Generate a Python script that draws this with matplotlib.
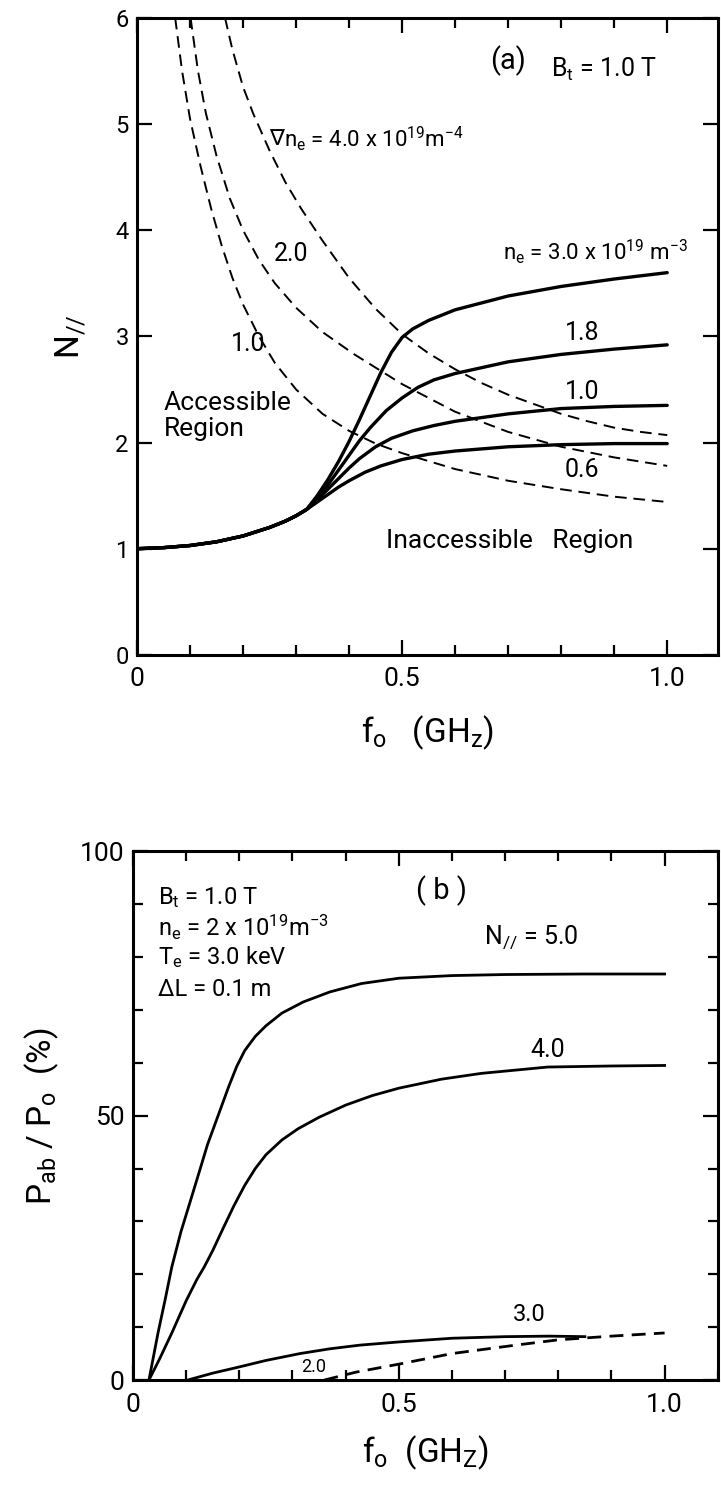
import matplotlib
matplotlib.use('Agg')
import matplotlib.pyplot as plt
from matplotlib.ticker import MultipleLocator

plt.rcParams['font.family'] = ['Roboto', 'DejaVu Sans']
plt.rcParams['mathtext.default'] = 'regular'

# ---- panel (a): accessibility, N_par vs f0 ----
fa_common = [0.0, 0.05, 0.1, 0.15, 0.2, 0.25, 0.28, 0.3, 0.32]
na_common = [1.0, 1.01, 1.03, 1.065, 1.12, 1.2, 1.26, 1.31, 1.37]

ne06_f = [0.34, 0.36, 0.38, 0.4, 0.43, 0.46, 0.5, 0.55, 0.6, 0.7, 0.8, 0.9, 1.0]
ne06_n = [1.44, 1.51, 1.58, 1.64, 1.72, 1.78, 1.84, 1.89, 1.92, 1.96, 1.98, 1.99, 1.99]
ne10_f = [0.34, 0.36, 0.38, 0.4, 0.42, 0.45, 0.48, 0.52, 0.56, 0.6, 0.7, 0.8, 0.9, 1.0]
ne10_n = [1.46, 1.56, 1.66, 1.76, 1.85, 1.96, 2.04, 2.11, 2.16, 2.2, 2.27, 2.32, 2.34, 2.35]
ne18_f = [0.34, 0.36, 0.38, 0.4, 0.42, 0.44, 0.47, 0.5, 0.53, 0.56, 0.6, 0.7, 0.8, 0.9, 1.0]
ne18_n = [1.48, 1.6, 1.74, 1.88, 2.02, 2.14, 2.3, 2.42, 2.52, 2.59, 2.65, 2.76, 2.83, 2.88, 2.92]
ne30_f = [0.34, 0.36, 0.38, 0.4, 0.42, 0.44, 0.46, 0.48, 0.5, 0.52, 0.55, 0.6, 0.7, 0.8, 0.9, 1.0]
ne30_n = [1.5, 1.65, 1.82, 2.01, 2.22, 2.44, 2.66, 2.85, 2.99, 3.07, 3.15, 3.25, 3.38, 3.47, 3.54, 3.6]

g1_f = [0.072, 0.085, 0.1, 0.12, 0.14, 0.16, 0.18, 0.2, 0.23, 0.26, 0.3, 0.35, 0.4, 0.45, 0.5,
        0.6, 0.7, 0.8, 0.9, 1.0]
g1_n = [6.0, 5.5, 5.05, 4.6, 4.2, 3.85, 3.55, 3.3, 3.0, 2.75, 2.5, 2.27, 2.11, 1.99, 1.9,
        1.75, 1.64, 1.56, 1.49, 1.44]
g2_f = [0.101, 0.115, 0.13, 0.15, 0.175, 0.2, 0.23, 0.26, 0.3, 0.35, 0.41, 0.5, 0.6, 0.7, 0.8,
        0.9, 1.0]
g2_n = [6.0, 5.5, 5.1, 4.7, 4.3, 4.0, 3.72, 3.5, 3.27, 3.04, 2.83, 2.55, 2.29, 2.1, 1.96,
        1.86, 1.78]
g4_f = [0.166, 0.18, 0.2, 0.219, 0.25, 0.28, 0.31, 0.35, 0.4, 0.45, 0.5, 0.55, 0.6, 0.65, 0.7,
        0.75, 0.8, 0.85, 0.9, 0.95, 1.0]
g4_n = [6.0, 5.7, 5.35, 5.1, 4.75, 4.45, 4.2, 3.9, 3.55, 3.26, 3.02, 2.84, 2.69, 2.56, 2.45,
        2.36, 2.27, 2.2, 2.14, 2.1, 2.07]

# ---- panel (b): absorbed power fraction vs f0 ----
p5_f = [0.03, 0.047, 0.06, 0.073, 0.09, 0.108, 0.125, 0.14, 0.16, 0.18, 0.195, 0.21, 0.23, 0.25,
        0.28, 0.32, 0.37, 0.43, 0.5, 0.6, 0.7, 0.85, 1.0]
p5_v = [0, 8.9, 15, 21.4, 28, 33.9, 39.5, 44.5, 50, 55.5, 59.3, 62.3, 65.0, 67.0,
        69.4, 71.5, 73.4, 75, 76, 76.5, 76.7, 76.8, 76.8]
p4_f = [0.03, 0.05, 0.073, 0.1, 0.12, 0.134, 0.15, 0.17, 0.19, 0.21, 0.23, 0.25, 0.28, 0.31,
        0.35, 0.4, 0.45, 0.5, 0.58, 0.655, 0.78, 0.9, 1.0]
p4_v = [0, 4, 8.9, 15, 19, 21.4, 24.5, 28.8, 33, 36.8, 40.0, 42.6, 45.4, 47.5,
        49.7, 52, 53.8, 55.2, 56.9, 58, 59.2, 59.4, 59.5]
p3_f = [0.103, 0.15, 0.201, 0.25, 0.314, 0.37, 0.427, 0.5, 0.6, 0.7, 0.784, 0.85]
p3_v = [0, 1.3, 2.5, 3.7, 5.0, 5.9, 6.6, 7.2, 7.9, 8.2, 8.3, 8.2]
p2_f = [0.36, 0.42, 0.5, 0.6, 0.72, 0.8, 0.9, 1.0]
p2_v = [0, 1.5, 3.0, 5.0, 6.6, 7.6, 8.3, 8.9]


def style_axes(ax, ymajor, yminor, ysize):
    ax.xaxis.set_major_locator(MultipleLocator(0.5))
    ax.xaxis.set_minor_locator(MultipleLocator(0.1))
    ax.yaxis.set_major_locator(MultipleLocator(ymajor))
    ax.yaxis.set_minor_locator(MultipleLocator(yminor))
    ax.tick_params(which='both', direction='in', top=True, right=True, width=1.6)
    ax.tick_params(which='major', length=11)
    ax.tick_params(which='minor', length=7)
    ax.tick_params(axis='x', labelsize=19, pad=9)
    ax.tick_params(axis='y', labelsize=ysize, pad=6)
    for s in ax.spines.values():
        s.set_linewidth(2.2)


fig = plt.figure(figsize=(7.21, 14.85), dpi=100)

# panel (a)
ax1 = fig.add_axes([0.190, 0.559, 0.806, 0.429])
solid = dict(color='black', lw=2.4, solid_capstyle='round', solid_joinstyle='round')
dash = dict(color='black', lw=1.4, linestyle=(0, (6, 3.5)))
for f, n in [(ne06_f, ne06_n), (ne10_f, ne10_n), (ne18_f, ne18_n), (ne30_f, ne30_n)]:
    ax1.plot(fa_common + f, na_common + n, **solid)
for f, n in [(g1_f, g1_n), (g2_f, g2_n), (g4_f, g4_n)]:
    ax1.plot(f, n, **dash)
ax1.set_xlim(0, 1.096)
ax1.set_ylim(0, 6)
ax1.set_xticks([0, 0.5, 1.0])
ax1.set_xticklabels(['0', '0.5', '1.0'])
style_axes(ax1, 1, 1, 17)
ax1.set_xlabel('f$_o$   (GH$_z$)', fontsize=24, labelpad=16)
ax1.set_ylabel('N$_{//}$', fontsize=24, labelpad=20)

ax1.text(0.70, 5.6, '(a)', fontsize=21, ha='center', va='center')
ax1.text(0.78, 5.51, 'B$_t$ = 1.0 T', fontsize=18, ha='left', va='center')
nabla = ax1.text(0.25, 4.86, '∇', fontsize=16, ha='left', va='center', family='DejaVu Sans')
ax1.annotate('n$_e$ = 4.0 x 10$^{19}$m$^{-4}$', xy=(1.0, 0.5), xycoords=nabla,
             fontsize=16, ha='left', va='center')
ax1.text(0.69, 3.8, 'n$_e$ = 3.0 x 10$^{19}$ m$^{-3}$', fontsize=16, ha='left', va='center')
ax1.text(0.84, 3.03, '1.8', fontsize=18, ha='center', va='center')
ax1.text(0.84, 2.48, '1.0', fontsize=18, ha='center', va='center')
ax1.text(0.84, 1.74, '0.6', fontsize=18, ha='center', va='center')
ax1.text(0.29, 3.78, '2.0', fontsize=18, ha='center', va='center')
ax1.text(0.21, 2.93, '1.0', fontsize=18, ha='center', va='center')
ax1.text(0.05, 2.25, 'Accessible\nRegion', fontsize=19, ha='left', va='center', linespacing=1.15)
ax1.text(0.47, 1.07, 'Inaccessible   Region', fontsize=19, ha='left', va='center')

# panel (b)
ax2 = fig.add_axes([0.1845, 0.0707, 0.811, 0.356])
ax2.plot(p5_f, p5_v, color='black', lw=2.0, solid_joinstyle='round')
ax2.plot(p4_f, p4_v, color='black', lw=2.0, solid_joinstyle='round')
ax2.plot(p3_f, p3_v, color='black', lw=2.0, solid_joinstyle='round')
ax2.plot(p2_f, p2_v, color='black', lw=2.0, linestyle=(0, (5, 3)))
ax2.set_xlim(0, 1.10)
ax2.set_ylim(0, 100)
ax2.set_xticks([0, 0.5, 1.0])
ax2.set_xticklabels(['0', '0.5', '1.0'])
style_axes(ax2, 50, 10, 19)
ax2.set_xlabel('f$_o$  (GH$_Z$)', fontsize=24, labelpad=12)
ax2.set_ylabel('P$_{ab}$ / P$_o$  (%)', fontsize=24, labelpad=14)

ax2.text(0.047, 91.3, 'B$_t$ = 1.0 T', fontsize=17, ha='left', va='center')
ax2.text(0.047, 85.6, 'n$_e$ = 2 x 10$^{19}$m$^{-3}$', fontsize=17, ha='left', va='center')
ax2.text(0.047, 80.0, 'T$_e$ = 3.0 keV', fontsize=17, ha='left', va='center')
ax2.text(0.047, 73.9, 'ΔL = 0.1 m', fontsize=17, ha='left', va='center')
ax2.text(0.58, 92.6, '( b )', fontsize=21, ha='center', va='center')
ax2.text(0.66, 83.7, 'N$_{//}$ = 5.0', fontsize=18, ha='left', va='center')
ax2.text(0.78, 62.5, '4.0', fontsize=18, ha='center', va='center')
ax2.text(0.746, 12.3, '3.0', fontsize=17, ha='center', va='center')
ax2.text(0.34, 2.4, '2.0', fontsize=13, ha='center', va='center')

fig.savefig('out.png', dpi=100)
